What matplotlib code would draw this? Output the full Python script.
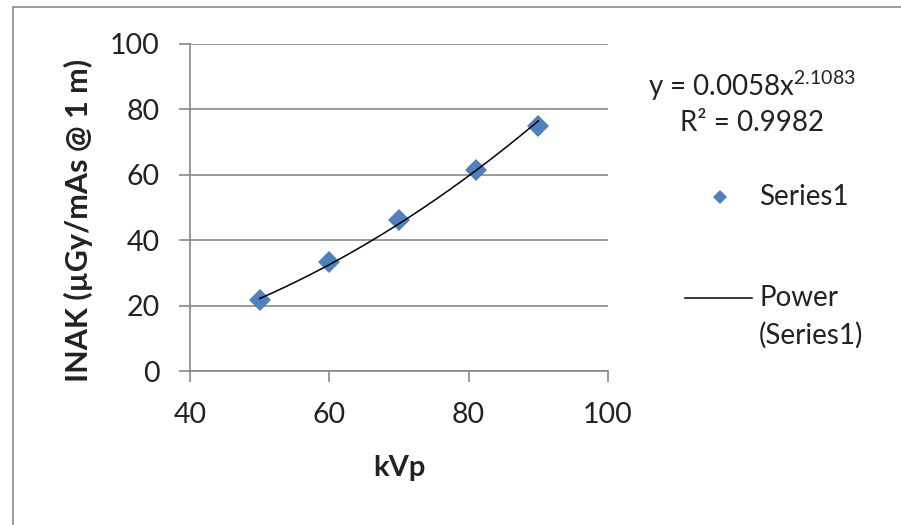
import numpy as np
import matplotlib
matplotlib.use("Agg")
import matplotlib.pyplot as plt
from matplotlib.lines import Line2D
from matplotlib.patches import Rectangle

kvp = [50, 60, 70, 81, 90]
inak = [21.6, 33.4, 46.2, 61.6, 75.0]

# Excel power trendline, as printed on the chart
COEF_A = 0.0058
COEF_B = 2.1083
R2 = 0.9982

x_ticks = [40, 60, 80, 100]
y_ticks = [0, 20, 40, 60, 80, 100]

W, H = 901, 525
FONT = "Lato"
BLUE = "#4F81BD"
GRID = "#878787"

plt.rcParams["font.family"] = [FONT, "DejaVu Sans"]
plt.rcParams["mathtext.fontset"] = "custom"
plt.rcParams["mathtext.rm"] = FONT
plt.rcParams["mathtext.it"] = FONT


def fx(px):
    return px / W


def fy(py):
    return 1 - py / H


fig = plt.figure(figsize=(W / 100, H / 100), dpi=100)
fig.patches.append(Rectangle((fx(13), -0.1), 1.0, fy(7) + 0.1,
                             transform=fig.transFigure, fill=False,
                             edgecolor="#8c8c8c", lw=1.2))

ax = fig.add_axes([fx(190), fy(371), fx(608) - fx(190), fy(44) - fy(371)])

xs = np.linspace(min(kvp), max(kvp), 200)
ax.plot(xs, COEF_A * xs ** COEF_B, color="black", lw=1.1, zorder=3)
ax.plot(kvp, inak, ls="none", marker="D", ms=11, color=BLUE,
        markeredgewidth=0, zorder=2)

ax.set_xlim(40, 100)
ax.set_ylim(0, 100)
ax.set_xticks(x_ticks)
ax.set_yticks(y_ticks)
ax.yaxis.grid(True, color=GRID, lw=1.2)
ax.set_axisbelow(True)
for s in ["top", "right"]:
    ax.spines[s].set_visible(False)
for s in ["left", "bottom"]:
    ax.spines[s].set_color(GRID)
    ax.spines[s].set_linewidth(1.2)
ax.tick_params(direction="out", length=8, width=1.2, color=GRID,
               labelsize=20.5, pad=14, labelcolor="#222222")

fig.text(fx(399), fy(468), "kVp", ha="center", va="center",
         fontsize=21, fontweight="bold", color="#222222")
fig.text(fx(78), fy(220), "INAK (µGy/mAs @ 1 m)", ha="center", va="center",
         rotation=90, fontsize=22, fontweight="bold", color="#222222")

# trendline equation
fig.text(fx(752), fy(86), "y = %.4fx$^{%.4f}$" % (COEF_A, COEF_B),
         ha="center", va="center", fontsize=20, color="#222222")
fig.text(fx(752), fy(123), "R² = %.4f" % R2, ha="center", va="center",
         fontsize=20, color="#222222")

# legend, laid out like Excel's
fig.lines.append(Line2D([fx(720)], [fy(197)], transform=fig.transFigure,
                        ls="none", marker="D", ms=7.5, color=BLUE,
                        markeredgewidth=0))
fig.text(fx(759), fy(197), "Series1", ha="left", va="center",
         fontsize=20, color="#222222")
fig.lines.append(Line2D([fx(685), fx(752)], [fy(298), fy(298)],
                        transform=fig.transFigure, color="black", lw=1.1))
fig.text(fx(759), fy(298), "Power", ha="left", va="center",
         fontsize=20, color="#222222")
fig.text(fx(759), fy(335), "(Series1)", ha="left", va="center",
         fontsize=20, color="#222222")

fig.savefig("out.png", dpi=100)
